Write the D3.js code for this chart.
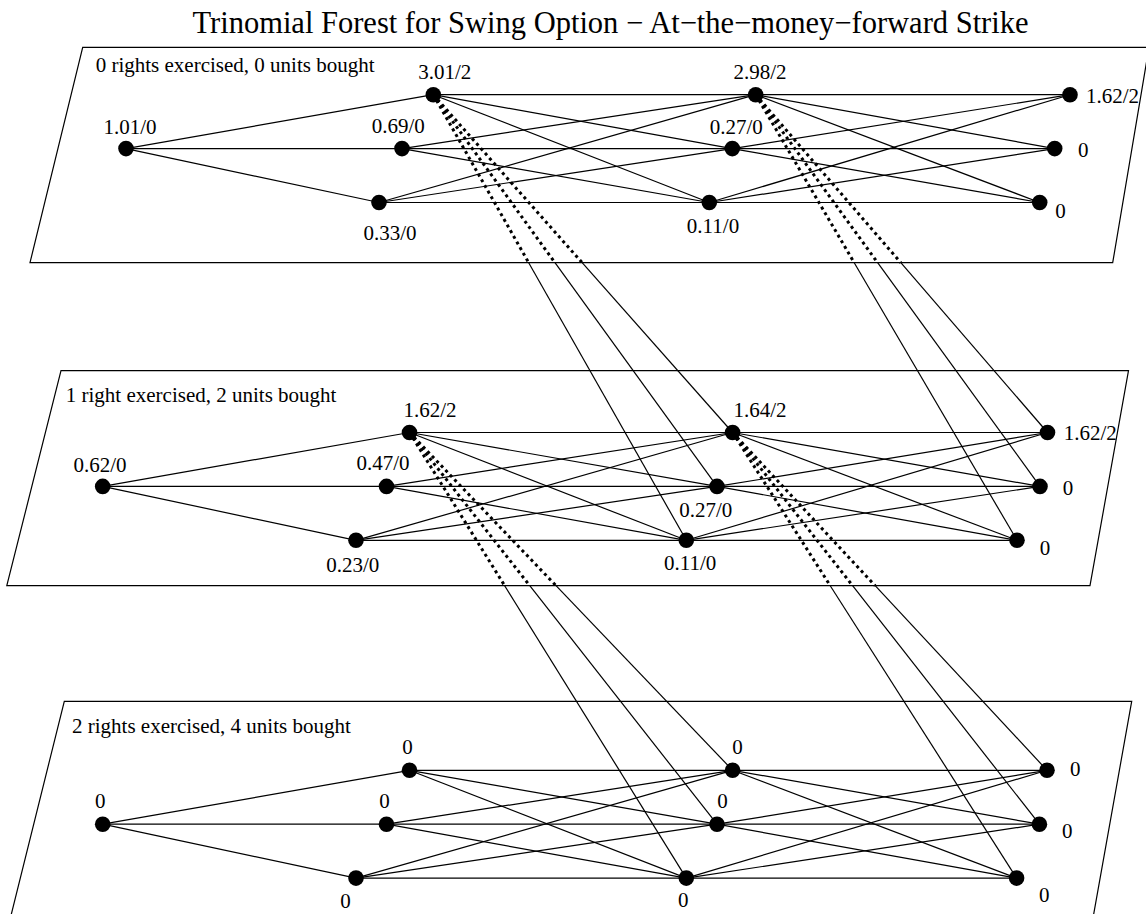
<!DOCTYPE html>
<html><head><meta charset="utf-8">
<script src="https://cdn.jsdelivr.net/npm/d3@7"></script>
<style>body{margin:0;background:#fff} svg{display:block}</style>
</head><body>
<svg id="chart" width="1146" height="914"></svg>
<script>
// ================= DATA =================
const chartTitle = "Trinomial Forest for Swing Option \u2212 At\u2212the\u2212money\u2212forward Strike";
const layerLabels = [
  "0 rights exercised, 0 units bought",
  "1 right exercised, 2 units bought",
  "2 rights exercised, 4 units bought"
];
const stateIds = ["up", "mid", "down"];
// node order: t0, t1 up/mid/down, t2 up/mid/down, t3 up/mid/down
const nodeStep  = [0, 1, 1, 1, 2, 2, 2, 3, 3, 3];
const nodeState = ["mid", "up", "mid", "down", "up", "mid", "down", "up", "mid", "down"];
const values0 = ["1.01/0", "3.01/2", "0.69/0", "0.33/0", "2.98/2", "0.27/0", "0.11/0", "1.62/2", "0", "0"];
const values1 = ["0.62/0", "1.62/2", "0.47/0", "0.23/0", "1.64/2", "0.27/0", "0.11/0", "1.62/2", "0", "0"];
const values2 = ["0", "0", "0", "0", "0", "0", "0", "0", "0", "0"];
// nodes where a right is exercised (jump to the next layer at the next step)
const exerciseNodes = [1, 4];

// ================= LAYOUT (diagram geometry) =================
const layoutX = [
  [126, 433.3, 402, 379, 755.7, 732.3, 709.3, 1070, 1054.7, 1039.7],
  [102.7, 409.5, 386.5, 356, 732.6, 717, 686.3, 1047.5, 1040, 1017],
  [102.7, 409.5, 386.5, 356, 732.6, 717, 686.3, 1047, 1039.4, 1016.6]
];
const boxCorners = [
  [[82.7, 47.3], [1149, 47.3], [1112.7, 262.7], [30, 262.7]],
  [[61, 370.7], [1128.5, 370.7], [1090, 585.7], [6.8, 585.7]],
  [[64.3, 701.3], [1131.7, 701.3], [1093.3, 916.3], [10.8, 916.3]]
];
const layerLabelPos = [[95.7, 71.7], [65.8, 401.7], [72, 732.7]];
// label offsets relative to node: [dx, dy(baseline), anchor]
const labelOffsets = [
  [[4,-14.7,"middle"],[11.4,-16,"middle"],[-3.7,-15.4,"middle"],[11,37.3,"middle"],
   [4.3,-15.3,"middle"],[4,-15,"middle"],[3.7,30.4,"middle"],
   [16,8.3,"start"],[23.3,8,"start"],[15.6,15,"start"]],
  [[-2.7,-14.5,"middle"],[20.5,-15.4,"middle"],[-3.5,-16,"middle"],[-3.3,31.7,"middle"],
   [27.4,-15.4,"middle"],[-11.3,30.6,"middle"],[3.9,30,"middle"],
   [16.2,7.7,"start"],[22.7,8.3,"start"],[22.7,14.5,"start"]],
  [[-2.4,-16,"middle"],[-1.9,-16,"middle"],[-1.9,-16.2,"middle"],[-10.4,30.3,"middle"],
   [4.9,-16,"middle"],[5.6,-16.2,"middle"],[-3,29.3,"middle"],
   [23,5.6,"start"],[22.6,14,"start"],[22.4,23.4,"start"]]
];

// ================= DRAW =================
const layerValues = [values0, values1, values2];
const svg = d3.select("#chart");
const font = "'Liberation Serif','Times New Roman',Times,serif";

const yState = d3.scalePoint().domain(stateIds).range([94.7, 202.5]);
const yLayer = d3.scaleLinear().domain([0, 2]).range([0, 675.6]);
const xPos = (L, i) => layoutX[L][i];
const yPos = (L, i) => yState(nodeState[i]) + yLayer(L);

function addText(g, x, y, txt, size, anchor) {
  g.append("text")
    .attr("x", x).attr("y", y)
    .attr("text-anchor", anchor)
    .attr("font-family", font)
    .attr("font-size", size)
    .attr("fill", "#000")
    .text(txt);
}

// title
addText(svg, 610.5, 33, chartTitle, 30.5, "middle");

// layer boxes
const lineGen = d3.line();
boxCorners.forEach(c => {
  svg.append("path").attr("d", lineGen(c) + "Z")
    .attr("fill", "none").attr("stroke", "#000").attr("stroke-width", 1.2);
});

// edges within layers
const edges = [];
nodeStep.forEach((s, i) => {
  nodeStep.forEach((s2, j) => { if (s2 === s + 1) edges.push([i, j]); });
});
const gEdges = svg.append("g");
layerValues.forEach((vals, L) => {
  edges.forEach(([i, j]) => {
    gEdges.append("line")
      .attr("x1", xPos(L, i)).attr("y1", yPos(L, i))
      .attr("x2", xPos(L, j)).attr("y2", yPos(L, j))
      .attr("stroke", "#000").attr("stroke-width", 1.2);
  });
});

// cross-layer exercise links (dotted inside source layer, solid after)
const gCross = svg.append("g");
[0, 1].forEach(L => {
  const yb = boxCorners[L][2][1];
  exerciseNodes.forEach(i => {
    nodeStep.forEach((s2, j) => {
      if (s2 !== nodeStep[i] + 1) return;
      const x1 = xPos(L, i), y1 = yPos(L, i);
      const x2 = xPos(L + 1, j), y2 = yPos(L + 1, j);
      const t = (yb - y1) / (y2 - y1);
      const xm = x1 + t * (x2 - x1);
      gCross.append("line")
        .attr("x1", x1).attr("y1", y1).attr("x2", xm).attr("y2", yb)
        .attr("stroke", "#000").attr("stroke-width", 3)
        .attr("stroke-dasharray", "3,3.5");
      gCross.append("line")
        .attr("x1", xm).attr("y1", yb).attr("x2", x2).attr("y2", y2)
        .attr("stroke", "#000").attr("stroke-width", 1.2);
    });
  });
});

// nodes + labels
layerValues.forEach((vals, L) => {
  const g = svg.append("g");
  g.selectAll("circle").data(vals).join("circle")
    .attr("cx", (d, i) => xPos(L, i)).attr("cy", (d, i) => yPos(L, i))
    .attr("r", 7.8).attr("fill", "#000");
  vals.forEach((v, i) => {
    const o = labelOffsets[L][i];
    addText(g, xPos(L, i) + o[0], yPos(L, i) + o[1], v, 21, o[2]);
  });
  addText(g, layerLabelPos[L][0], layerLabelPos[L][1], layerLabels[L], 21, "start");
});
</script>
</body></html>
